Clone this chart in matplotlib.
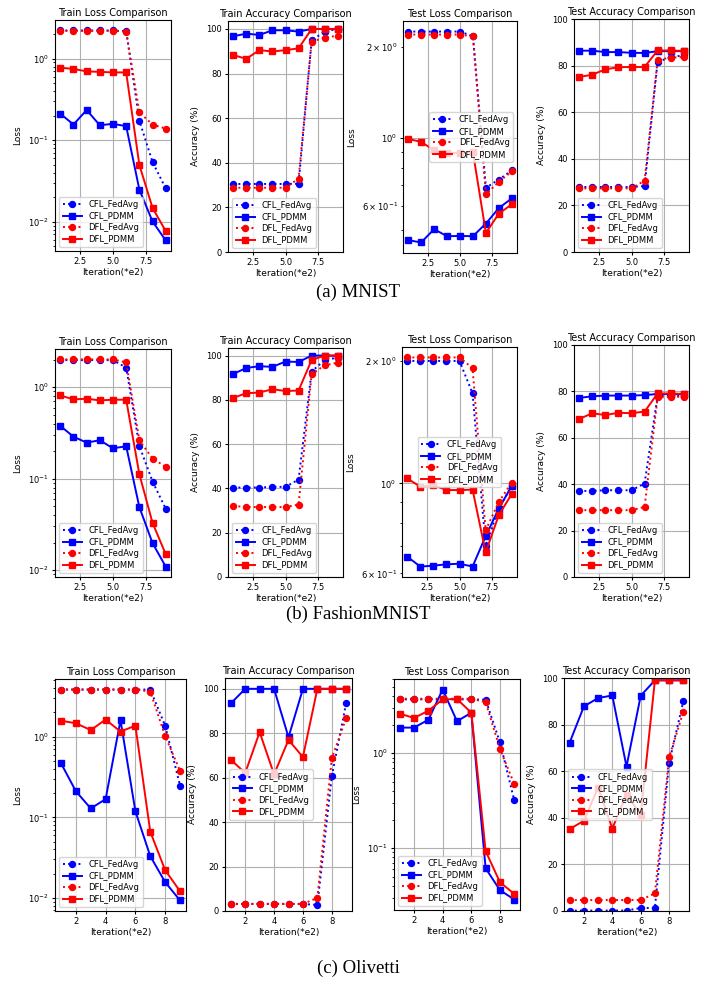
import numpy as np
import matplotlib
matplotlib.use("Agg")
import matplotlib.pyplot as plt

iters = np.arange(1, 10)
labels = ['CFL_FedAvg', 'CFL_PDMM', 'DFL_FedAvg', 'DFL_PDMM']

# MNIST
mn_train_loss = {
    'CFL_FedAvg': [2.22, 2.22, 2.22, 2.22, 2.22, 2.18, 0.174, 0.054, 0.0257],
    'CFL_PDMM':   [0.212, 0.156, 0.235, 0.153, 0.159, 0.149, 0.0248, 0.0101, 0.0059],
    'DFL_FedAvg': [2.2, 2.2, 2.2, 2.2, 2.2, 2.15, 0.22, 0.156, 0.139],
    'DFL_PDMM':   [0.777, 0.75, 0.70, 0.69, 0.68, 0.68, 0.0499, 0.0148, 0.0077],
}
mn_train_acc = {
    'CFL_FedAvg': [30.5, 30.5, 30.5, 30.5, 30.5, 30.6, 94.9, 98.8, 100],
    'CFL_PDMM':   [96.7, 97.9, 97.3, 99.4, 99.4, 98.8, 100, 100, 100],
    'DFL_FedAvg': [28.8, 28.8, 28.8, 28.8, 28.8, 32.9, 94.3, 96.1, 97.0],
    'DFL_PDMM':   [88.3, 86.6, 90.5, 89.9, 90.5, 91.3, 100, 100, 100],
}
mn_test_loss = {
    'CFL_FedAvg': [2.24, 2.24, 2.24, 2.24, 2.24, 2.16, 0.688, 0.732, 0.784],
    'CFL_PDMM':   [0.463, 0.455, 0.503, 0.477, 0.478, 0.477, 0.525, 0.590, 0.635],
    'DFL_FedAvg': [2.19, 2.19, 2.19, 2.19, 2.19, 2.16, 0.654, 0.720, 0.778],
    'DFL_PDMM':   [0.995, 0.973, 0.913, 0.895, 0.895, 0.90, 0.489, 0.566, 0.607],
}
mn_test_acc = {
    'CFL_FedAvg': [27.9, 27.9, 27.9, 27.9, 27.9, 28.3, 81.7, 83.5, 84.5],
    'CFL_PDMM':   [86.4, 86.4, 85.8, 85.8, 85.5, 85.4, 86.2, 86.2, 86.2],
    'DFL_FedAvg': [27.3, 27.3, 27.3, 27.3, 27.3, 30.6, 82.5, 83.4, 83.7],
    'DFL_PDMM':   [75.1, 76.1, 78.4, 79.3, 79.4, 79.4, 86.5, 86.5, 86.3],
}

# FashionMNIST
fm_train_loss = {
    'CFL_FedAvg': [1.98, 1.98, 1.98, 1.98, 1.98, 1.64, 0.228, 0.093, 0.0468],
    'CFL_PDMM':   [0.378, 0.288, 0.248, 0.263, 0.215, 0.226, 0.0488, 0.0197, 0.0109],
    'DFL_FedAvg': [2.02, 2.02, 2.02, 2.02, 2.02, 1.87, 0.263, 0.166, 0.135],
    'DFL_PDMM':   [0.814, 0.737, 0.749, 0.719, 0.731, 0.731, 0.112, 0.0328, 0.0149],
}
fm_train_acc = {
    'CFL_FedAvg': [40.4, 40.4, 40.4, 40.7, 40.7, 44.0, 92.8, 98.0, 99.1],
    'CFL_PDMM':   [91.7, 94.4, 95.2, 94.9, 97.3, 97.1, 100, 100, 100],
    'DFL_FedAvg': [32.1, 31.6, 31.6, 31.6, 31.6, 32.7, 91.6, 95.6, 96.8],
    'DFL_PDMM':   [80.9, 83.0, 83.3, 84.8, 84.0, 84.2, 98.0, 100, 100],
}
fm_test_loss = {
    'CFL_FedAvg': [2.0, 2.0, 2.0, 2.0, 2.0, 1.665, 0.702, 0.866, 0.987],
    'CFL_PDMM':   [0.660, 0.624, 0.627, 0.632, 0.634, 0.624, 0.741, 0.866, 0.985],
    'DFL_FedAvg': [2.04, 2.04, 2.04, 2.04, 2.04, 1.92, 0.766, 0.899, 1.004],
    'DFL_PDMM':   [1.028, 0.981, 0.989, 0.963, 0.962, 0.965, 0.676, 0.834, 0.942],
}
fm_test_acc = {
    'CFL_FedAvg': [37.1, 37.1, 37.4, 37.4, 37.4, 40.3, 78.1, 78.1, 78.1],
    'CFL_PDMM':   [77.2, 77.9, 78.2, 78.2, 78.2, 78.4, 78.9, 78.8, 78.8],
    'DFL_FedAvg': [28.8, 28.8, 28.8, 28.8, 28.8, 30.2, 77.5, 77.5, 77.8],
    'DFL_PDMM':   [68.1, 70.6, 69.8, 70.8, 70.6, 71.3, 79.1, 79.1, 78.9],
}

# Olivetti
ol_train_loss = {
    'CFL_FedAvg': [3.85, 3.85, 3.85, 3.85, 3.85, 3.85, 3.85, 1.37, 0.248],
    'CFL_PDMM':   [0.47, 0.211, 0.129, 0.168, 1.6, 0.119, 0.033, 0.0157, 0.0093],
    'DFL_FedAvg': [3.85, 3.85, 3.85, 3.85, 3.85, 3.85, 3.63, 1.02, 0.377],
    'DFL_PDMM':   [1.58, 1.47, 1.21, 1.63, 1.16, 1.37, 0.0663, 0.0221, 0.0121],
}
ol_train_acc = {
    'CFL_FedAvg': [3.2, 3.2, 3.2, 3.2, 3.2, 3.2, 2.7, 60.6, 93.7],
    'CFL_PDMM':   [93.4, 100, 100, 100, 78.2, 100, 100, 100, 100],
    'DFL_FedAvg': [3.2, 3.2, 3.2, 3.2, 3.2, 3.2, 5.9, 68.7, 86.9],
    'DFL_PDMM':   [68.1, 62.1, 80.5, 61.5, 77.0, 69.3, 100, 100, 100],
}
ol_test_loss = {
    'CFL_FedAvg': [3.69, 3.69, 3.69, 3.69, 3.69, 3.69, 3.66, 1.30, 0.319],
    'CFL_PDMM':   [1.86, 1.86, 2.25, 4.69, 2.17, 2.67, 0.0612, 0.036, 0.0287],
    'DFL_FedAvg': [3.75, 3.75, 3.75, 3.75, 3.75, 3.75, 3.45, 1.11, 0.473],
    'DFL_PDMM':   [2.61, 2.35, 2.80, 3.69, 3.72, 2.67, 0.093, 0.0436, 0.0329],
}
ol_test_acc = {
    'CFL_FedAvg': [0.2, 0.2, 0.2, 0.2, 0.2, 1.3, 1.3, 63.6, 90.0],
    'CFL_PDMM':   [72.3, 87.8, 91.4, 92.5, 62.0, 92.4, 99.0, 99.0, 99.0],
    'DFL_FedAvg': [4.7, 4.7, 4.7, 4.7, 4.7, 4.7, 7.6, 65.9, 85.5],
    'DFL_PDMM':   [35.2, 38.7, 53.0, 35.4, 50.0, 41.3, 99.0, 99.0, 99.0],
}

rows = [
    [mn_train_loss, mn_train_acc, mn_test_loss, mn_test_acc],
    [fm_train_loss, fm_train_acc, fm_test_loss, fm_test_acc],
    [ol_train_loss, ol_train_acc, ol_test_loss, ol_test_acc],
]
titles = ['Train Loss Comparison', 'Train Accuracy Comparison',
          'Test Loss Comparison', 'Test Accuracy Comparison']
captions = ['(a) MNIST', '(b) FashionMNIST', '(c) Olivetti']
legend_locs = [
    ['lower left', 'lower left', 'center right', 'lower left'],
    ['lower left', 'lower left', 'center', 'lower left'],
    ['lower left', 'center left', 'lower left', 'center left'],
]

# axes boxes in pixels (left, top, right, bottom)
W, H = 717, 986
boxes = [
    [(55, 20, 171, 251), (228, 21, 343, 252), (403, 21, 517, 253), (574, 19, 689, 252)],
    [(55, 349, 171, 577), (228, 348, 343, 577), (402, 347, 517, 577), (574, 345, 689, 577)],
    [(55, 679, 186, 911), (225, 678, 352, 911), (394, 679, 520, 910), (564, 678, 689, 911)],
]
caption_y = [292, 614, 968]

styles = {
    'CFL_FedAvg': dict(color='blue', linestyle=':', marker='o'),
    'CFL_PDMM':   dict(color='blue', linestyle='-', marker='s'),
    'DFL_FedAvg': dict(color='red', linestyle=':', marker='o'),
    'DFL_PDMM':   dict(color='red', linestyle='-', marker='s'),
}

fig = plt.figure(figsize=(W / 100, H / 100), dpi=100)

for r in range(3):
    for c in range(4):
        l, t, rr, b = boxes[r][c]
        ax = fig.add_axes([l / W, 1 - b / H, (rr - l) / W, (b - t) / H])
        data = rows[r][c]
        for lab in labels:
            ax.plot(iters, data[lab], label=lab, linewidth=1.4, markersize=4.3, **styles[lab])
        if c in (0, 2):
            ax.set_yscale('log')
            ax.set_ylabel('Loss', fontsize=6.5)
        else:
            ax.set_ylabel('Accuracy (%)', fontsize=6.5)
            if c == 3:
                ax.set_ylim(0, 100)
            else:
                ax.set_ylim(bottom=0)
        ax.set_title(titles[c], fontsize=7, pad=3)
        ax.set_xlabel('Iteration(*e2)', fontsize=6.5, labelpad=1)
        ax.tick_params(which='both', labelsize=6, pad=2)
        ax.tick_params(which='major', length=2.5)
        ax.tick_params(which='minor', length=1.5)
        ax.grid(True, which='major')
        ax.legend(loc=legend_locs[r][c], fontsize=6, handlelength=2.3,
                  borderpad=0.4, labelspacing=0.3)
    fig.text(0.5, 1 - caption_y[r] / H, captions[r], ha='center', va='center',
             fontsize=13.5, family='Liberation Serif')

fig.savefig('out.png', dpi=100)
